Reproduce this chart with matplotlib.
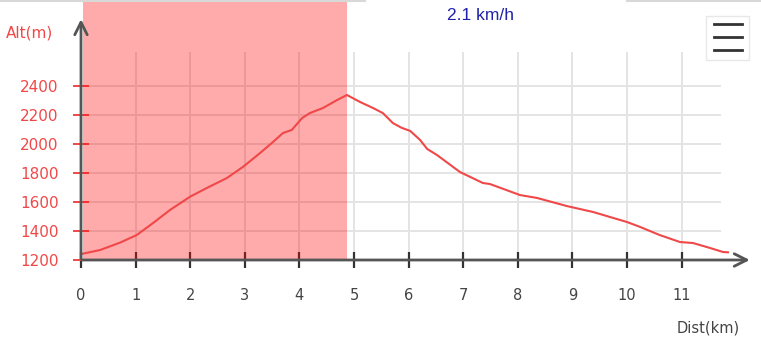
import matplotlib.pyplot as plt
from matplotlib.patches import Rectangle

# elevation profile (km, m)
dist = [0.0, 0.35, 0.71, 1.02, 1.32, 1.63, 2.0, 2.3, 2.67, 2.97, 3.28, 3.52,
        3.7, 3.86, 4.05, 4.19, 4.43, 4.69, 4.87, 5.11, 5.35, 5.53, 5.71, 5.87,
        6.03, 6.21, 6.34, 6.52, 6.94, 7.36, 7.49, 8.04, 8.35, 8.9, 9.04, 9.38,
        10.0, 10.24, 10.6, 10.97, 11.21, 11.52, 11.76, 11.85]
alt = [1241, 1269, 1319, 1372, 1455, 1545, 1637, 1696, 1765, 1843, 1938, 2015,
       2076, 2097, 2179, 2213, 2248, 2303, 2338, 2290, 2248, 2213, 2145, 2112,
       2090, 2028, 1966, 1924, 1807, 1731, 1724, 1648, 1628, 1572, 1560, 1531,
       1462, 1428, 1372, 1324, 1317, 1283, 1255, 1253]
done_km = 4.87
speed_label = "2.1 km/h"
xticks = list(range(0, 12))
yticks = [1200, 1400, 1600, 1800, 2000, 2200, 2400]

RED = "#f04848"
AX = "#555555"

W, H = 761, 337
fig = plt.figure(figsize=(W / 100, H / 100), dpi=100)
ax = fig.add_axes([81 / W, (H - 260) / H, (750 - 81) / W, 260 / H])
ax.set_xlim(0, (750 - 81) / 54.6)
ax.set_ylim(1200, 1200 + 260 / 29 * 200)
for s in ax.spines.values():
    s.set_visible(False)

# grid
ax.vlines(xticks[1:], 1200, 2634, color="#e4e4e4", lw=1.4, zorder=1)
ax.hlines(yticks[1:], 0, 11.72, color="#e4e4e4", lw=1.4, zorder=1)

# covered part of the track
ax.axvspan(0.03, done_km, color="red", alpha=0.33, lw=0, zorder=2)

ax.plot(dist, alt, color=RED, lw=1.5, zorder=3, solid_joinstyle="round")

# axes with arrow heads
ax.annotate("", xy=(12.3, 1200), xytext=(-0.03, 1200),
            arrowprops=dict(arrowstyle="->,head_length=0.9,head_width=0.45",
                            color=AX, lw=2), annotation_clip=False, zorder=4)
ax.annotate("", xy=(0, 2880), xytext=(0, 1190),
            arrowprops=dict(arrowstyle="->,head_length=0.9,head_width=0.45",
                            color=AX, lw=2), annotation_clip=False, zorder=4)

ax.set_xticks(xticks)
ax.set_yticks(yticks)
ax.tick_params(axis="x", direction="inout", length=12, width=1.6, color="#333333",
               labelcolor="#444444", labelsize=10.5, pad=14)
ax.tick_params(axis="y", direction="inout", length=12, width=1.4, color=RED,
               labelcolor=RED, labelsize=11, pad=10)

fig.text(30 / W, 1 - 33 / H, "Alt(m)", color=RED, fontsize=11,
         ha="center", va="center")
fig.text(740 / W, 1 - 328 / H, "Dist(km)", color="#444444", fontsize=10.5,
         ha="right", va="center")
fig.text(481 / W, 1 - 15 / H, speed_label, color="#2020a8", fontsize=12.5,
         family="Liberation Sans", ha="center", va="center")

# top border and menu button
fig.add_artist(plt.Line2D([0, 365 / W], [1 - 1 / H] * 2, color="#d8d8d8", lw=1.5))
fig.add_artist(plt.Line2D([627 / W, 1], [1 - 1 / H] * 2, color="#d8d8d8", lw=1.5))
fig.add_artist(Rectangle((706 / W, 1 - 60 / H), 43 / W, 44 / H,
                         transform=fig.transFigure, facecolor="white",
                         edgecolor="#e8e8e8", lw=1))
for yy in (24, 37, 50):
    fig.add_artist(plt.Line2D([714 / W, 742 / W], [1 - yy / H] * 2,
                              color="#333333", lw=2))

fig.savefig("out.png", dpi=100)
